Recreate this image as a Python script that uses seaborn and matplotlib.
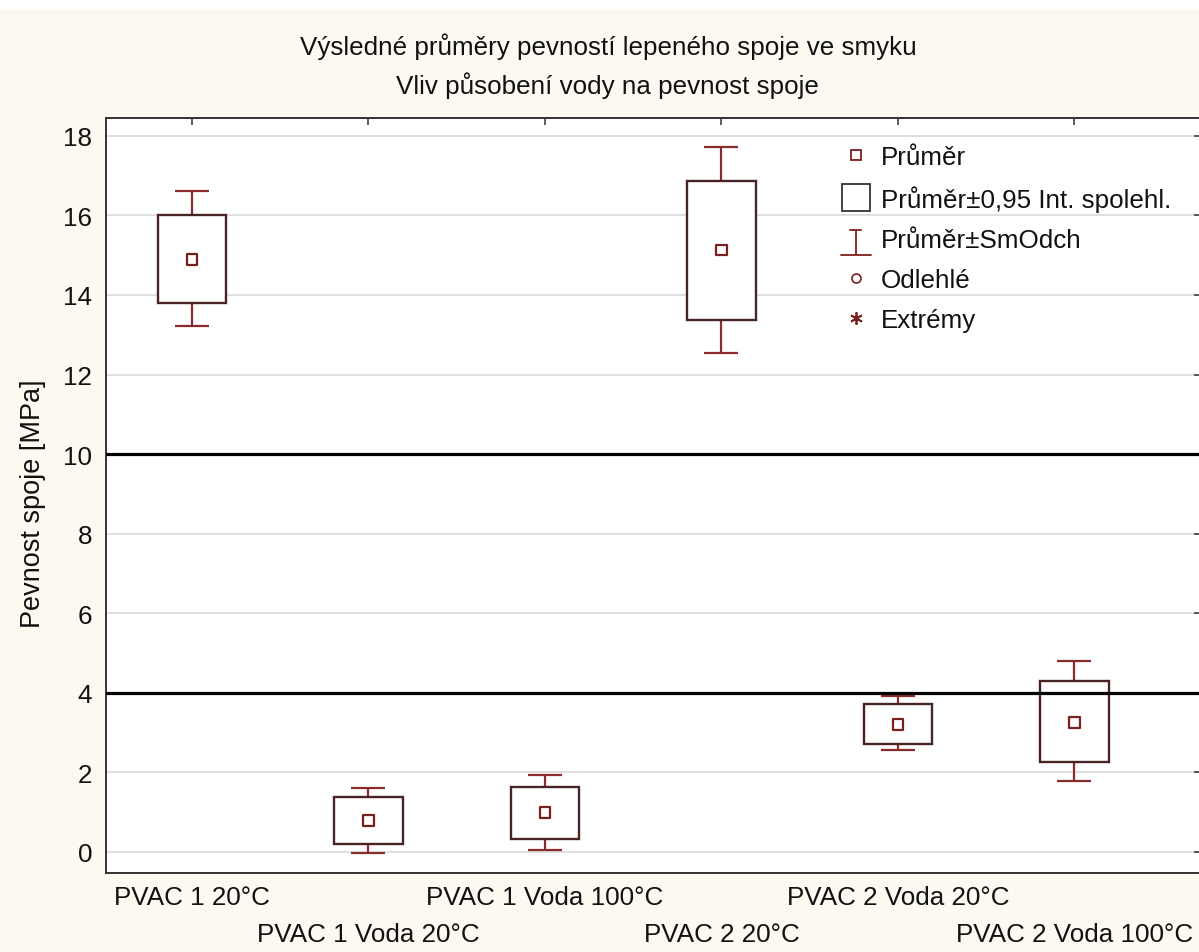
import numpy as np
import pandas as pd
import matplotlib
matplotlib.use("Agg")
import matplotlib.pyplot as plt
import seaborn as sns
from matplotlib.lines import Line2D
from matplotlib.patches import Rectangle
from matplotlib.legend_handler import HandlerBase

# ---------------- data ----------------
categories = ["PVAC 1 20°C", "PVAC 1 Voda 20°C", "PVAC 1 Voda 100°C",
              "PVAC 2 20°C", "PVAC 2 Voda 20°C", "PVAC 2 Voda 100°C"]
mean_vals = [14.89, 0.78, 0.98, 15.13, 3.20, 3.24]
ci_low = [13.80, 0.19, 0.32, 13.38, 2.72, 2.26]
ci_high = [16.01, 1.38, 1.64, 16.86, 3.72, 4.30]
sd_low = [13.23, -0.03, 0.04, 12.55, 2.57, 1.77]
sd_high = [16.61, 1.61, 1.92, 17.71, 3.91, 4.79]
ref_lines = [10, 4]
yticks = [0, 2, 4, 6, 8, 10, 12, 14, 16, 18]

title1 = "Výsledné průměry pevností lepeného spoje ve smyku"
title2 = "Vliv působení vody na pevnost spoje"
ylabel = "Pevnost spoje [MPa]"
legend_labels = ["Průměr", "Průměr±0,95 Int. spolehl.", "Průměr±SmOdch",
                 "Odlehlé", "Extrémy"]

# ---------------- style ----------------
BG = "#fcf9f1"
BOX = "#4a2424"
WH = "#8a2c2c"
MEAN = "#7a1e1e"
FS = 18.7

sns.set_theme(style="white")
plt.rcParams["font.family"] = ["Liberation Sans", "DejaVu Sans"]

W, H = 1199, 953
fig = plt.figure(figsize=(W / 100, H / 100), dpi=100, facecolor=BG)
fig.patches.append(Rectangle((0, 1 - 10 / H), 1, 10 / H, transform=fig.transFigure,
                             facecolor="white", edgecolor="none", zorder=0))

left, right, top, bottom = 106 / W, 1201 / W, 1 - 119 / H, 1 - 874 / H
ax = fig.add_axes([left, bottom, right - left, top - bottom])
ax.set_facecolor("white")

df = pd.DataFrame({"cat": categories, "mean": mean_vals, "ci_low": ci_low,
                   "ci_high": ci_high, "sd_low": sd_low, "sd_high": sd_high})
df["pos"] = np.arange(len(df))
x = df["pos"].to_numpy()
box_w = 0.39
cap_w = 0.193

# grid
ax.set_yticks(yticks)
ax.grid(axis="y", color="#d9d9d9", lw=1.2, zorder=0)
ax.set_axisbelow(True)

# whiskers (mean ± SD)
ax.vlines(x, df["sd_low"], df["ci_low"], color=WH, lw=1.6, zorder=2)
ax.vlines(x, df["ci_high"], df["sd_high"], color=WH, lw=1.6, zorder=2)
ax.hlines(df["sd_low"], x - cap_w / 2, x + cap_w / 2, color=WH, lw=1.6, zorder=2)
ax.hlines(df["sd_high"], x - cap_w / 2, x + cap_w / 2, color=WH, lw=1.6, zorder=2)

# boxes (95% CI)
ax.bar(x, df["ci_high"] - df["ci_low"], bottom=df["ci_low"], width=box_w,
       facecolor="white", edgecolor=BOX, linewidth=1.7, zorder=3)

# means
sns.scatterplot(data=df, x="pos", y="mean", marker="s", s=60,
                facecolors="none", edgecolors=MEAN, linewidths=1.6,
                zorder=4, ax=ax, legend=False)

# reference lines
for v in ref_lines:
    ax.axhline(v, color="black", lw=2.3, zorder=5)

ax.set_xlim(-0.487, 5.717)
ax.set_ylim(-0.535, 18.45)
ax.set_xlabel("")
ax.set_ylabel(ylabel, fontsize=19.5, color="#111111")
ax.yaxis.set_label_coords(-0.055, 0.49)

ax.set_xticks(x)
ax.set_xticklabels(categories)

ax.tick_params(axis="both", direction="in", length=5, width=1.1, color="#333333",
               top=True, right=True, labelsize=FS, labelcolor="#111111", pad=10)
ax.tick_params(axis="x", pad=9)
for i, tk in enumerate(ax.xaxis.get_major_ticks()):
    if i % 2 == 1:
        tk.set_pad(9 + 37 * 0.72)
for s in ax.spines.values():
    s.set_color("#333333")
    s.set_linewidth(1.4)
    s.set_visible(True)

# title
fig.text(0.507, 1 - 47 / H, title1, ha="center", va="center", fontsize=FS, color="#111111")
fig.text(0.507, 1 - 86 / H, title2, ha="center", va="center", fontsize=FS, color="#111111")


# legend
class WhiskerHandler(HandlerBase):
    def create_artists(self, legend, orig_handle, xdescent, ydescent, width, height,
                       fontsize, trans):
        cx = -xdescent + width / 2
        y0 = -ydescent - height * 0.45
        y1 = -ydescent + height * 0.95
        lines = [
            Line2D([cx, cx], [y0, y1], color=WH, lw=1.4),
            Line2D([cx - width * 0.16, cx + width * 0.16], [y1, y1], color=WH, lw=1.4),
            Line2D([cx - width * 0.45, cx + width * 0.45], [y0, y0], color=WH, lw=1.4),
        ]
        for ln in lines:
            ln.set_transform(trans)
        return lines


class BoxHandler(HandlerBase):
    def create_artists(self, legend, orig_handle, xdescent, ydescent, width, height,
                       fontsize, trans):
        cx = -xdescent + width / 2
        s = height * 1.5
        r = Rectangle((cx - s / 2, -ydescent + height / 2 - s / 2), s, s,
                      facecolor="none", edgecolor="#333333", lw=1.3, transform=trans)
        return [r]


h_mean = Line2D([], [], ls="none", marker="s", ms=6.5, mfc="none", mec=MEAN, mew=1.3)
h_box = Rectangle((0, 0), 1, 1)
h_wh = Line2D([], [])
h_out = Line2D([], [], ls="none", marker="o", ms=6.5, mfc="none", mec=MEAN, mew=1.2)
h_ext = Line2D([], [], ls="none", marker=(6, 2, 0), ms=9, mec=MEAN, mew=1.3)

leg = ax.legend([h_mean, h_box, h_wh, h_out, h_ext], legend_labels,
                handler_map={h_box: BoxHandler(), h_wh: WhiskerHandler()},
                loc="upper left", bbox_to_anchor=(839 / W, 1 - 146 / H),
                bbox_transform=fig.transFigure, frameon=False, fontsize=FS,
                handlelength=1.3, handletextpad=0.3, labelspacing=0.62,
                borderaxespad=0, borderpad=0)
for t in leg.get_texts():
    t.set_color("#111111")
leg.set_zorder(6)

fig.savefig("out.png", dpi=100, facecolor=BG)
